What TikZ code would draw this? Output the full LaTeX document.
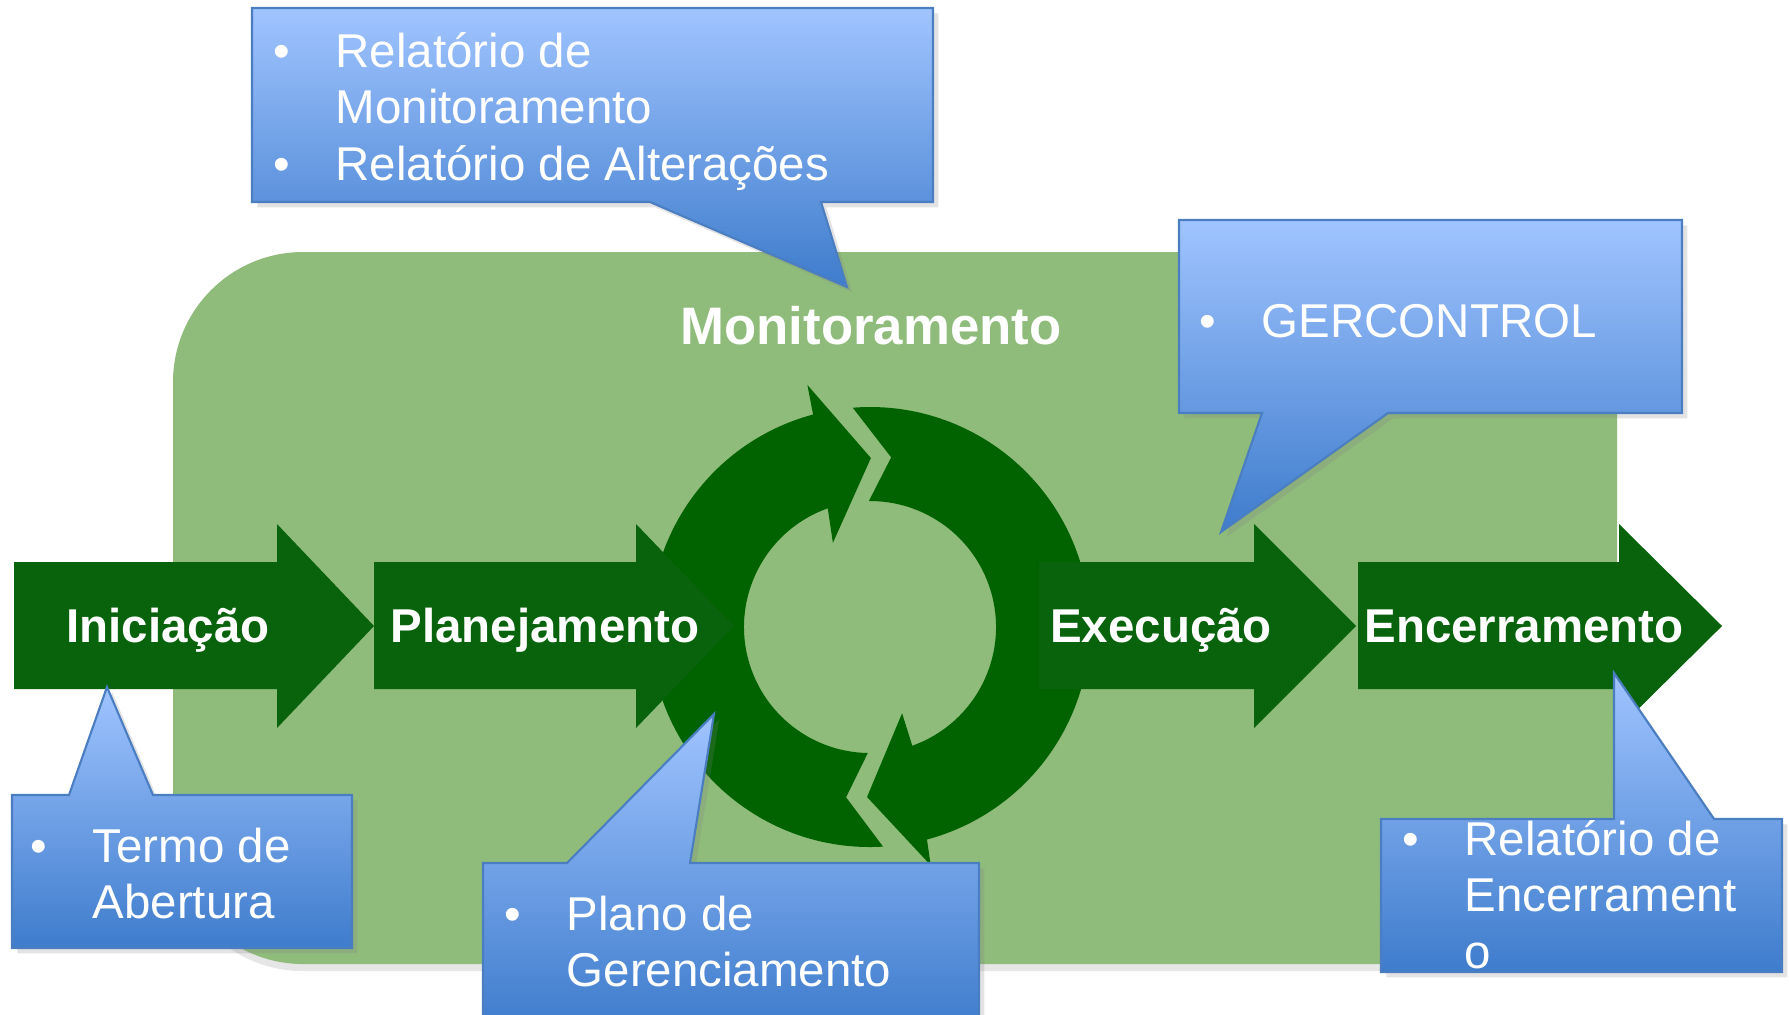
\documentclass[tikz,border=0pt]{standalone}
\usepackage{fontspec}
\setmainfont{Liberation Sans}
\usepackage{tikz}
\usetikzlibrary{shadows}

\definecolor{bggreen}{RGB}{143,188,123}
\definecolor{ringgreen}{RGB}{0,99,0}
\definecolor{phasegreen}{RGB}{9,98,12}
\definecolor{calltop}{RGB}{160,196,255}
\definecolor{callbottom}{RGB}{62,124,204}
\definecolor{callline}{RGB}{74,126,192}

\newcommand{\bul}{\llap{\textbullet\hspace{0.46cm}}}

\begin{document}
\begin{tikzpicture}[x=0.01cm, y=0.01cm,
    phase/.style={fill=phasegreen},
    phaselabel/.style={text=white, font=\fontsize{13.5}{16}\selectfont\bfseries, anchor=base, inner sep=0pt},
    callout/.style={draw=callline, line width=0.6pt, top color=calltop, bottom color=callbottom,
        drop shadow={opacity=0.22, shadow xshift=1.5pt, shadow yshift=-1.5pt}},
    calltext/.style={text=white, font=\fontsize{13.5}{16.2}\selectfont, anchor=base west, inner sep=0pt}]
    \useasboundingbox (0,0) rectangle (1789,-1014);

    % fundo
    \fill[bggreen, rounded corners=1.3cm, drop shadow={opacity=0.2, shadow xshift=0pt, shadow yshift=-2pt}]
        (173,-252) rectangle (1617,-964);

    % ciclo
    \begin{scope}[shift={(870,-627)}]
        \fill[ringgreen] (273.4:220) arc[start angle=273.4, end angle=105, radius=220] -- (104.5:250)
            -- (89.7:169) -- (113.8:92) -- (109.6:126) arc[start angle=109.6, end angle=269, radius=126]
            -- (262:172) -- cycle;
        \fill[ringgreen] (94.5:220) arc[start angle=94.5, end angle=-75, radius=220] -- (-75.7:246)
            -- (-91:170) -- (-69.6:92) -- (-70.4:126) arc[start angle=-70.4, end angle=90.5, radius=126]
            -- (82.9:171) -- cycle;
    \end{scope}

    % fases
    \foreach \xa/\xb/\xc in {14/277/374, 374/636/734, 1039/1254/1356, 1358/1619/1722}
        \fill[phase] (\xa,-562) -- (\xb,-562) -- (\xb,-524) -- (\xc,-626) -- (\xb,-728) -- (\xb,-689) -- (\xa,-689) -- cycle;

    \node[phaselabel] (ini) at (168,-642) {Iniciação};
    \node[phaselabel] (plan) at (545,-642) {Planejamento};
    \node[phaselabel] (exe) at (1161,-642) {Execução};
    \node[phaselabel] (enc) at (1524,-642) {Encerramento};
    \node[phaselabel, font=\fontsize{15}{18}\selectfont\bfseries] (mon) at (871,-344) {Monitoramento};

    % balões
    \path[callout] (252,-8) -- (933,-8) -- (933,-202) -- (821,-202) -- (847,-287) -- (650,-202) -- (252,-202) -- cycle;
    \node[calltext] (relmon) at (335,-67) {\begin{tabular}[t]{@{}l@{}}\bul Relatório de\\Monitoramento\\\bul Relatório de Alterações\end{tabular}};

    \path[callout] (1179,-220) -- (1682,-220) -- (1682,-413) -- (1388,-413) -- (1221,-532) -- (1262,-413) -- (1179,-413) -- cycle;
    \node[calltext] (gerc) at (1261,-337) {\bul GERCONTROL};

    \path[callout] (12,-795) -- (69,-795) -- (107,-687) -- (153,-795) -- (352,-795) -- (352,-948) -- (12,-948) -- cycle;
    \node[calltext] (termo) at (92,-862) {\begin{tabular}[t]{@{}l@{}}\bul Termo de\\Abertura\end{tabular}};

    \path[callout] (483,-863) -- (567,-863) -- (714,-714) -- (690,-863) -- (979,-863) -- (979,-1030) -- (483,-1030) -- cycle;
    \node[calltext] (plano) at (566,-930) {\begin{tabular}[t]{@{}l@{}}\bul Plano de\\Gerenciamento\end{tabular}};

    \path[callout] (1381,-819) -- (1614,-819) -- (1614,-673) -- (1714,-819) -- (1782,-819) -- (1782,-972) -- (1381,-972) -- cycle;
    \node[calltext] (relenc) at (1464,-855) {\begin{tabular}[t]{@{}l@{}}\bul Relatório de\\Encerrament\\o\end{tabular}};
\end{tikzpicture}
\end{document}
